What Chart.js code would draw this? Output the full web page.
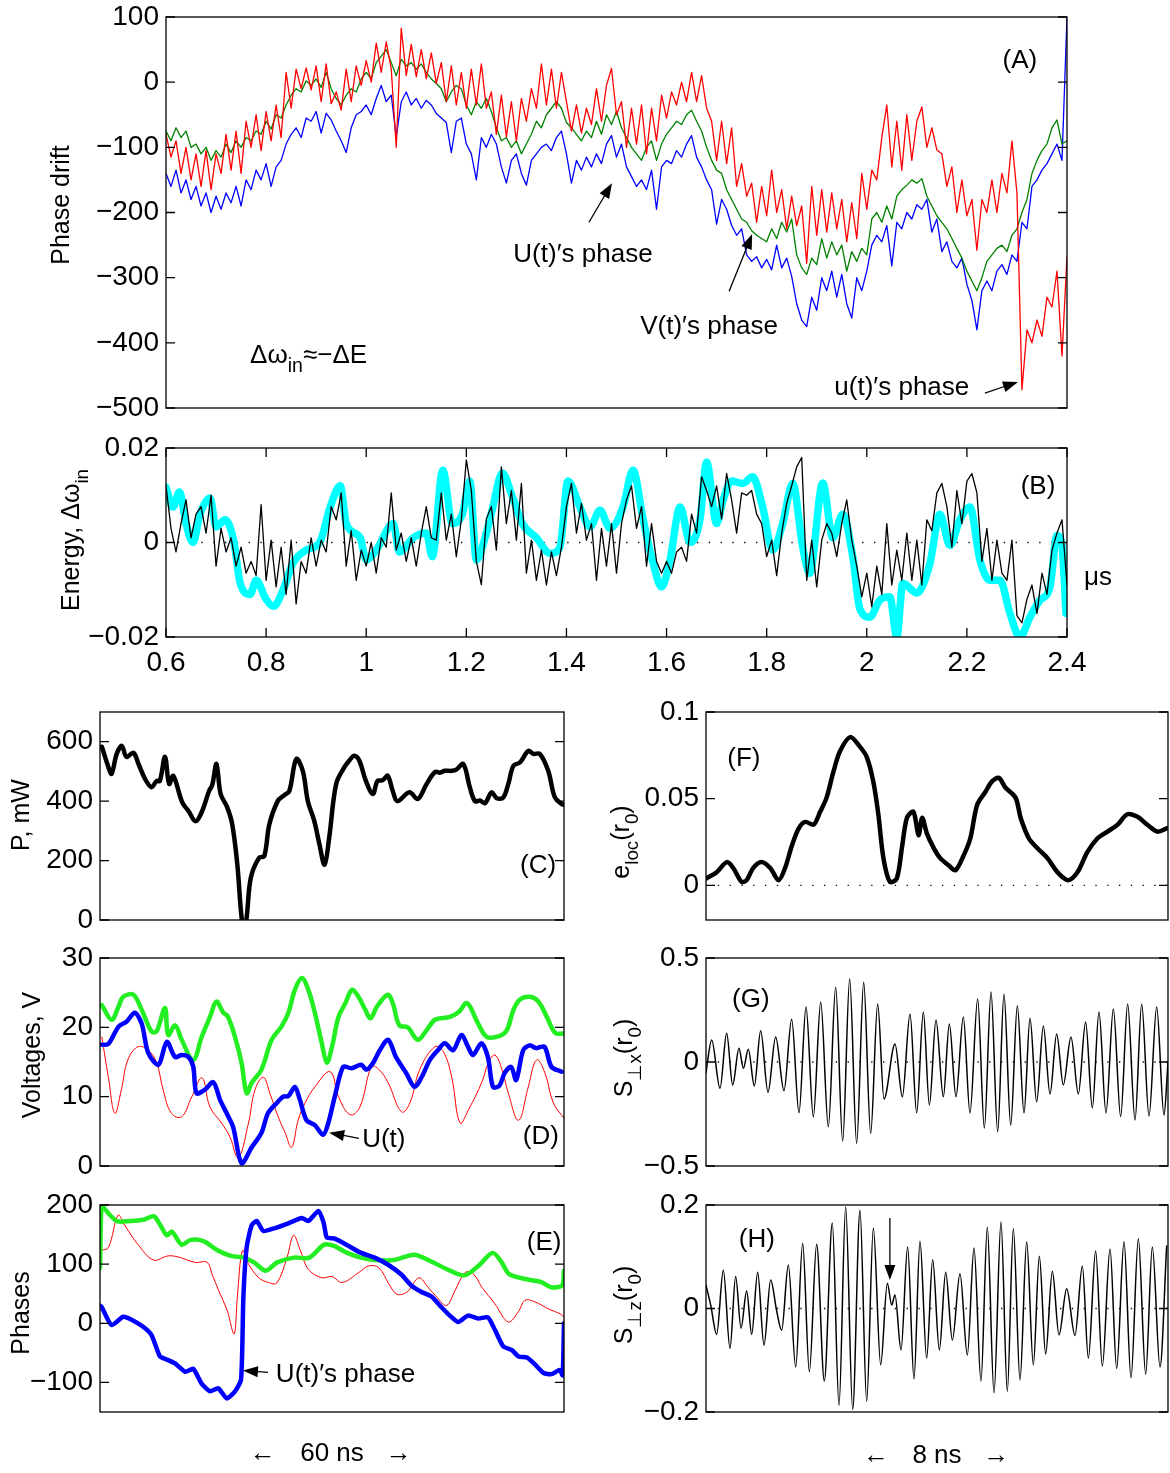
<!DOCTYPE html>
<html>
<head>
<meta charset="utf-8">
<script src="https://cdn.jsdelivr.net/npm/chart.js@4.4.1/dist/chart.umd.min.js"></script>
<style>
  html, body { margin: 0; padding: 0; background: #fff; }
  #page { position: relative; width: 1170px; height: 1473px; }
  #page canvas { position: absolute; left: 0; top: 0; }
</style>
</head>
<body>
<div id="page">
  <canvas id="cA" width="1170" height="1473"></canvas>
  <canvas id="cB" width="1170" height="1473"></canvas>
  <canvas id="cC" width="1170" height="1473"></canvas>
  <canvas id="cD" width="1170" height="1473"></canvas>
  <canvas id="cE" width="1170" height="1473"></canvas>
  <canvas id="cF" width="1170" height="1473"></canvas>
  <canvas id="cG" width="1170" height="1473"></canvas>
  <canvas id="cH" width="1170" height="1473"></canvas>
</div>
<script>
// ---------- data ----------
// panels A and B are sampled every 0.01 us from 0.6 us
var T_START = 0.6, T_STEP = 0.01;

var phaseRed = [
  -80, -115, -90, -140, -100, -150, -110, -160, -105, -165,
  -110, -140, -80, -135, -75, -140, -60, -100, -50, -105,
  -45, -90, -35, -85, 15, -40, 20, -10, 22, -12,
  25, -30, 28, -33, -15, -43, 20, -30, 25, -5,
  33, 0, 60, 15, 62, 20, -100, 83, 10, 58,
  8, 50, 5, 45, -2, 30, -30, 25, -35, 15,
  -40, 20, -35, 28, -40, -15, -80, -20, -84, -30,
  -90, -25, -60, -10, -40, 28, -35, 20, -40, 15,
  -30, -75, -35, -78, -40, -65, -10, -60, -5, 21,
  -50, -30, -100, -40, -95, -35, -110, -40, -90, -20,
  -55, -15, -35, 0, -30, 15, -30, 10, -40, -60,
  -120, -60, -125, -70, -160, -125, -175, -155, -215, -160,
  -205, -135, -200, -165, -225, -175, -220, -190, -278, -160,
  -235, -165, -230, -170, -225, -180, -245, -185, -240, -140,
  -195, -135, -150, -85, -35, -130, -60, -135, -50, -120,
  -60, -38, -100, -70, -104, -110, -160, -130, -200, -150,
  -205, -180, -258, -180, -200, -150, -200, -140, -170, -90,
  -170, -472, -380, -400, -365, -390, -330, -345, -290, -420,
  -268
];
var phaseGreen = [
  -75, -90, -70, -85, -75, -100, -95, -110, -100, -120,
  -105, -115, -95, -108, -90, -100, -85, -90, -75, -80,
  -60, -72, -50, -55, -35, -20, -10, -15, 2, -5,
  5, -8, 15, -10, -25, -35, -20, -10, -15, 5,
  15, 5, 30, 40, 50, 30, 10, 35, 25, 30,
  20, 28, 15, 5, -2, -10, -30, -15, -5, -10,
  -35, -50, -30, -40, -25, -45, -70, -90, -85, -100,
  -90, -110, -95, -80, -60, -70, -50, -40, -30, -40,
  -62, -70, -80, -90, -75, -85, -60, -80, -50, -65,
  -45, -70, -85, -100, -110, -120, -100, -90, -120, -95,
  -80, -70, -60, -65, -50, -43, -60, -75, -100, -120,
  -135, -140, -165, -180, -195, -210, -215, -228, -235, -240,
  -245, -225, -240, -215, -230, -210, -265, -285, -295, -270,
  -280, -240, -270, -245, -265, -250, -290, -260, -275, -255,
  -265, -210, -200, -215, -190, -210, -175, -165, -158, -150,
  -155, -148, -175, -190, -205, -215, -225, -240, -255, -270,
  -290, -305, -320, -300, -275, -265, -255, -250, -260, -235,
  -225, -200, -180, -140, -120, -105, -95, -70, -58, -95,
  -90
];
var phaseBlue = [
  -140, -160, -135, -170, -150, -180, -160, -190, -170, -200,
  -175, -195, -170, -185, -160, -190, -150, -165, -135, -150,
  -125, -160, -130, -120, -95, -80, -70, -85, -55, -60,
  -45, -78, -48, -58, -75, -90, -108, -70, -50, -45,
  -35, -50, -25, -5, -30, -20, -84, -30, -15, -35,
  -25, -40, -28, -35, -48, -55, -62, -108, -60, -55,
  -95, -110, -150, -85, -100, -80, -95, -130, -155, -120,
  -110, -140, -158, -120, -110, -100, -95, -105, -85, -75,
  -110, -155, -120, -135, -115, -130, -110, -125, -95, -82,
  -115, -95, -130, -145, -160, -150, -165, -135, -195, -130,
  -120, -125, -105, -115, -95, -82, -115, -130, -150, -165,
  -218, -180, -195, -220, -235, -225, -265, -275, -268, -285,
  -272, -288, -250, -285, -270, -298, -340, -365, -375, -330,
  -350, -300, -320, -290, -330, -295, -340, -362, -300, -320,
  -290, -250, -235, -245, -220, -282, -215, -225, -200, -210,
  -188, -195, -180, -230, -210, -260, -245, -275, -285, -270,
  -310, -335, -380, -320, -305, -320, -290, -280, -295, -265,
  -275, -215, -225, -160, -150, -135, -125, -110, -95, -120,
  100
];
var energyBlack = [
  0.012, 0.003, -0.002, 0.004, 0.009, 0.001, 0.006, 0.0076, 0.002, 0.010,
  -0.005, 0.003, -0.002, 0.001, -0.005, -0.001, -0.0065, -0.004, -0.007, 0.008,
  -0.008, 0.0005, -0.0094, -0.001, -0.011, 0.0005, -0.013, -0.004, -0.0065, 0.001,
  -0.005, 0.0005, -0.002, 0.0076, 0.0048, 0.0105, -0.005, 0.0025, -0.008, -0.0016,
  -0.005, 0, -0.0065, 0.001, -0.001, 0.0105, -0.0016, 0.002, -0.004, 0.001,
  -0.005, 0.002, 0.0076, 0.001, 0.0005, 0.0105, 0.0005, 0.006, -0.003, 0.0048,
  0.0175, 0.011, -0.004, -0.0089, 0.005, 0.0076, -0.0016, 0.016, 0.004, 0.011,
  0.0005, 0.0125, -0.0065, 0.0005, -0.008, -0.0016, -0.009, -0.002, -0.007, -0.001,
  0.0076, 0.0125, 0.002, 0.0083, 0.0005, 0.004, -0.008, 0.003, -0.005, 0.004,
  -0.0065, 0.004, 0.009, 0.012, 0.003, 0.0076, -0.005, 0.004, -0.004, -0.0065,
  -0.004, -0.0065, -0.002, -0.001, -0.004, 0.006, 0.002, 0.0139, 0.011, 0.0076,
  0.012, 0.005, 0.0146, 0.009, 0.002, 0.0105, 0.010, 0.011, 0.006, 0.004,
  -0.003, 0.0005, -0.007, 0.002, 0.0083, 0.012, 0.016, 0.018, -0.008, 0.0005,
  -0.0094, 0.0005, 0.004, 0.002, -0.003, 0.004, 0.009, 0.0005, -0.005, -0.0115,
  -0.0065, -0.0136, -0.005, -0.011, 0.004, -0.009, -0.0016, -0.008, 0.002, -0.008,
  0.0005, -0.009, 0.0048, 0.0025, 0.0105, 0.0125, 0.0076, -0.001, 0.011, 0.004,
  0.013, 0.0146, 0.0105, -0.004, 0.003, -0.008, 0.0005, -0.0065, -0.008, 0.0005,
  -0.0155, -0.017, -0.012, -0.009, -0.015, -0.0065, -0.011, -0.0016, 0.002, 0.0048,
  -0.009
];
var energyCyan = [
  [0.600, 0.0117], [0.614, 0.0075], [0.627, 0.0107], [0.640, 0.004], [0.654, 0.000],
  [0.668, 0.006], [0.688, 0.0094], [0.700, 0.0033], [0.718, 0.0048], [0.735, 0.0005],
  [0.748, -0.0085], [0.768, -0.0110], [0.780, -0.0080], [0.800, -0.0120], [0.815, -0.0135],
  [0.834, -0.0100], [0.854, -0.0043], [0.880, -0.0016], [0.907, 0.0000], [0.928, 0.0075],
  [0.948, 0.0120], [0.960, 0.0040], [0.988, 0.0010], [1.000, -0.0037], [1.020, -0.0016],
  [1.054, 0.0040], [1.066, -0.0020], [1.094, 0.0010], [1.120, 0.0020], [1.132, -0.0030],
  [1.153, 0.0153], [1.172, 0.0040], [1.192, 0.0060], [1.207, 0.0130], [1.220, -0.0037],
  [1.240, 0.0020], [1.253, 0.0075], [1.272, 0.0147], [1.292, 0.0097], [1.312, 0.0040],
  [1.340, 0.0010], [1.367, -0.0023], [1.387, -0.0010], [1.403, 0.0130], [1.427, 0.0075],
  [1.447, 0.0033], [1.467, 0.0068], [1.487, 0.0030], [1.513, 0.0075], [1.533, 0.0153],
  [1.553, 0.0050], [1.573, -0.0043], [1.590, -0.0094], [1.607, -0.0037], [1.627, 0.0075],
  [1.647, 0.0000], [1.667, 0.0050], [1.680, 0.0170], [1.700, 0.0040], [1.713, 0.0090],
  [1.730, 0.0130], [1.752, 0.0125], [1.772, 0.0139], [1.792, 0.0075], [1.812, -0.0016],
  [1.832, 0.0040], [1.852, 0.0125], [1.872, -0.0010], [1.886, -0.0065], [1.912, 0.0126],
  [1.932, 0.0010], [1.952, 0.0060], [1.972, -0.0030], [1.986, -0.0140], [2.006, -0.0158],
  [2.026, -0.0122], [2.046, -0.0115], [2.060, -0.0200], [2.072, -0.0086], [2.100, -0.0107],
  [2.126, -0.0045], [2.146, 0.0060], [2.166, -0.0006], [2.186, 0.0048], [2.206, 0.0075],
  [2.226, -0.0037], [2.246, -0.0080], [2.266, -0.0080], [2.286, -0.0150], [2.306, -0.0200],
  [2.326, -0.0158], [2.346, -0.0122], [2.366, -0.0094], [2.380, 0.0015], [2.390, -0.0006],
  [2.398, -0.0150]
];

// panels C-E: time across the 60 ns window, in % of the window
var powerMW = [
  [0.4, 583], [1.8, 515], [2.5, 492], [3.6, 559], [4.7, 586], [5.7, 549], [7.2, 563], [8.3, 525],
  [9.7, 475], [11.1, 447], [12.2, 468], [12.9, 468], [14.0, 549], [14.9, 458], [15.8, 485],
  [17.7, 397], [19.1, 366], [20.6, 332], [22.0, 366], [23.5, 434], [24.2, 455], [25.1, 525],
  [26.0, 424], [27.4, 380], [28.5, 322], [29.6, 186], [30.7, -15], [31.4, -15], [32.5, 142],
  [34.3, 210], [35.4, 215], [36.5, 322], [38.3, 400], [39.7, 420], [40.8, 434], [42.3, 542],
  [43.7, 502], [44.8, 400], [46.2, 332], [47.3, 254], [48.4, 186], [49.4, 278], [50.9, 458],
  [52.7, 515], [53.7, 536], [54.8, 553], [55.9, 536], [57.3, 468], [58.8, 424], [59.8, 468],
  [60.9, 470], [62.0, 485], [63.1, 434], [64.1, 400], [66.7, 430], [68.5, 407], [70.4, 458],
  [72.2, 498], [73.3, 496], [74.3, 502], [75.8, 502], [76.8, 506], [78.3, 525], [79.7, 447],
  [80.8, 400], [81.9, 402], [83.0, 393], [84.4, 430], [85.5, 410], [86.9, 412], [88.0, 458],
  [89.1, 519], [90.5, 530], [92.3, 569], [93.4, 559], [94.8, 559], [96.6, 502], [98.0, 414],
  [99.5, 390], [100, 388]
];
var voltGreen = [
  [0.4, 23.2], [2.5, 21.1], [4.0, 23.0], [5.0, 24.4], [7.2, 24.7], [9.0, 22.5], [11.1, 19.4],
  [12.2, 19.4], [14.0, 22.8], [14.7, 18.9], [16.2, 20.3], [17.6, 18.2], [20.1, 15.3], [21.9, 18.6],
  [23.7, 21.5], [25.1, 23.7], [26.5, 22.2], [27.6, 21.5], [29.1, 18.6], [30.5, 14.9], [31.6, 10.5],
  [32.7, 12.0], [34.8, 13.9], [37.0, 18.2], [39.1, 20.1], [40.6, 22.1], [42.0, 25.4], [43.5, 27.1],
  [44.9, 25.4], [46.3, 22.1], [47.8, 17.7], [48.9, 14.9], [50.0, 17.2], [51.4, 21.5], [52.9, 23.5],
  [54.3, 25.4], [55.7, 24.4], [57.2, 22.5], [58.3, 21.3], [59.7, 23.0], [62.0, 24.7], [63.1, 23.5],
  [64.5, 20.3], [66.3, 20.0], [68.5, 18.2], [70.4, 19.6], [72.2, 21.1], [75.4, 21.5], [77.3, 22.2],
  [79.1, 23.5], [81.3, 20.8], [83.4, 18.6], [86.3, 18.8], [87.7, 19.6], [89.1, 22.5], [90.5, 24.0],
  [92.7, 24.4], [94.5, 23.7], [96.3, 21.5], [98.1, 19.2], [99.9, 19.1]
];
var voltBlue = [
  [0.4, 17.5], [1.8, 17.6], [4.0, 20.1], [5.7, 20.8], [7.5, 22.1], [9.0, 20.5], [10.4, 16.3],
  [12.6, 14.6], [14.4, 17.9], [16.2, 15.7], [17.6, 16.0], [19.1, 15.7], [20.1, 14.3], [20.8, 10.5],
  [22.6, 11.0], [24.4, 12.1], [25.9, 9.5], [27.3, 7.6], [28.7, 5.6], [30.5, 0.4], [32.7, 2.7],
  [34.8, 4.8], [36.2, 7.6], [38.1, 9.1], [39.5, 10.0], [40.6, 10.1], [42.0, 11.4], [43.1, 9.5],
  [44.5, 6.6], [46.3, 5.9], [48.1, 4.5], [49.2, 6.2], [50.6, 10.0], [52.4, 14.3], [54.2, 14.1],
  [56.3, 14.6], [57.4, 13.9], [58.8, 14.8], [60.3, 16.7], [62.1, 18.2], [63.8, 15.7], [66.0, 13.4],
  [67.8, 11.4], [69.3, 12.8], [71.1, 15.3], [72.8, 16.7], [74.3, 17.7], [76.1, 16.7], [77.9, 18.9],
  [79.3, 17.2], [80.4, 16.0], [82.2, 17.7], [83.6, 15.7], [84.7, 11.4], [86.1, 11.6], [87.2, 13.4],
  [88.6, 14.3], [89.7, 12.4], [91.2, 16.7], [92.6, 17.4], [94.0, 17.0], [95.8, 17.2], [97.3, 14.3],
  [99.5, 13.6]
];
var voltRed = [
  [0.4, 18.6], [1.8, 12.8], [3.2, 7.6], [4.6, 11.0], [6.0, 15.3], [8.2, 17.2], [10.4, 16.7],
  [12.2, 14.9], [13.6, 11.0], [15.4, 7.6], [17.6, 7.1], [19.8, 10.0], [22.0, 12.7], [23.7, 8.5],
  [26.2, 6.2], [28.0, 4.2], [29.8, 1.2], [32.0, 6.2], [33.4, 11.0], [35.2, 12.8], [36.6, 10.5],
  [38.4, 7.1], [39.9, 4.8], [41.3, 2.7], [42.7, 6.6], [44.2, 9.1], [46.3, 11.4], [49.6, 13.6],
  [51.4, 10.0], [53.9, 7.4], [56.0, 8.5], [58.5, 14.3], [60.0, 14.0], [62.1, 12.0], [65.0, 7.8],
  [66.8, 9.1], [68.9, 13.9], [72.2, 17.2], [74.0, 16.5], [75.8, 12.8], [77.6, 6.2], [79.4, 8.1],
  [82.3, 12.1], [83.7, 14.9], [85.1, 16.0], [86.6, 14.0], [88.0, 10.5], [90.2, 6.6], [92.3, 11.4],
  [94.1, 15.3], [95.9, 13.4], [97.7, 9.1], [100, 6.9]
];
var phaseGreenE = [
  [0, 94], [0.3, 200], [0.6, 197], [3.6, 173], [6.5, 173], [9.4, 175], [11.6, 181], [13.0, 166],
  [14.4, 149], [15.5, 155], [17.6, 133], [19.5, 141], [22.3, 139], [25.2, 124], [28.2, 114],
  [31.0, 111], [33.2, 103], [35.7, 89], [38.2, 103], [41.8, 111], [45.1, 111], [48.3, 133],
  [50.4, 131], [53.3, 119], [56.2, 111], [59.1, 107], [63.4, 107], [67.7, 116], [71.3, 105],
  [74.9, 91], [78.5, 81], [81.4, 96], [84.6, 119], [86.4, 105], [88.2, 83], [92.2, 74],
  [95.0, 70], [97.2, 61], [99.6, 64], [100, 89]
];
var phaseBlueE = [
  [0, 30], [0.4, 27], [2.5, -3], [5.0, 11], [6.8, 6], [9.3, -6], [11.1, -20], [12.9, -56],
  [14.0, -60], [16.2, -68], [18.4, -82], [20.1, -77], [21.9, -102], [23.7, -115], [25.5, -110],
  [27.3, -127], [29.1, -115], [30.4, -95], [30.9, 44], [31.6, 128], [32.7, 166], [33.8, 173],
  [35.2, 156], [37.7, 161], [40.6, 169], [43.5, 178], [44.9, 173], [47.1, 190], [48.2, 170],
  [48.9, 145], [50.6, 143], [53.5, 131], [56.3, 119], [59.2, 111], [62.1, 99], [65.0, 82],
  [67.1, 64], [69.3, 53], [71.5, 45], [73.6, 27], [75.4, 13], [77.2, 2], [79.3, 13], [81.5, 8],
  [83.6, 10], [85.1, -11], [86.9, -39], [88.7, -45], [90.2, -56], [92.0, -58], [93.8, -70],
  [95.6, -84], [97.3, -86], [99.1, -79], [99.7, -88], [100, 0]
];
var phaseRedE = [
  [0, 123], [1.8, 128], [3.9, 183], [5.3, 166], [8.2, 133], [11.5, 107], [14.7, 114], [16.9, 112],
  [20.5, 103], [23.1, 103], [24.2, 82], [25.6, 55], [27.4, 22], [28.9, -18], [29.6, 44],
  [30.7, 123], [32.1, 99], [34.2, 77], [36.3, 69], [38.1, 68], [40.3, 111], [41.7, 149],
  [43.1, 125], [44.9, 91], [47.8, 77], [50.0, 79], [52.2, 69], [55.8, 86], [57.9, 97], [60.1, 94],
  [62.3, 66], [64.0, 49], [66.2, 53], [68.7, 77], [70.8, 60], [72.6, 44], [74.7, 30], [76.5, 55],
  [78.7, 86], [80.5, 83], [82.3, 61], [85.1, 33], [88.0, 2], [90.2, 20], [91.6, 39], [93.8, 36],
  [96.7, 24], [99.2, 16], [100, 10]
];

// panels F-H: time across the 8 ns window, in % of the window
var eLoc = [
  [0.1, 0.004], [2.3, 0.0075], [4.5, 0.0134], [5.9, 0.010], [7.7, 0.002], [8.8, 0.003],
  [10.2, 0.0099], [12.0, 0.0134], [13.9, 0.010], [15.7, 0.003], [17.1, 0.0099], [18.6, 0.023],
  [20.1, 0.033], [21.5, 0.0366], [23.3, 0.035], [24.7, 0.0424], [26.1, 0.0506], [27.6, 0.0657],
  [29.0, 0.0773], [31.2, 0.0855], [33.3, 0.080], [34.8, 0.074], [36.2, 0.060], [37.3, 0.041],
  [38.4, 0.0157], [39.8, 0.002], [41.3, 0.004], [42.4, 0.0215], [43.5, 0.039], [44.9, 0.0424],
  [46.0, 0.029], [46.8, 0.039], [47.8, 0.030], [49.3, 0.0215], [50.7, 0.0157], [52.5, 0.0116],
  [54.0, 0.0087], [55.8, 0.0174], [57.2, 0.027], [58.7, 0.0465], [60.5, 0.054], [61.9, 0.060],
  [63.4, 0.062], [64.8, 0.0564], [67.0, 0.0506], [68.1, 0.039], [69.9, 0.027], [71.7, 0.0215],
  [73.9, 0.0157], [76.1, 0.0075], [78.4, 0.003], [80.4, 0.0075], [82.5, 0.019], [84.7, 0.027],
  [86.9, 0.031], [89.1, 0.035], [91.2, 0.041], [93.4, 0.0395], [95.5, 0.035], [97.7, 0.031],
  [99.9, 0.033]
];
var spinX = [
  [0, -0.05], [1.23, 0.106], [3.03, -0.126], [4.47, 0.138], [5.77, -0.11], [7.14, 0.066],
  [8.08, -0.03], [9.16, 0.061], [10.46, -0.115], [11.83, 0.15], [13.42, -0.145], [15.08, 0.12],
  [16.88, -0.138], [18.54, 0.206], [20.13, -0.244], [21.65, 0.265], [23.23, -0.263], [24.83, 0.288],
  [26.48, -0.311], [28.07, 0.359], [29.58, -0.38], [31.10, 0.399], [32.61, -0.391], [34.13, 0.383],
  [35.64, -0.343], [37.16, 0.279], [38.53, -0.178], [40.91, 0.087], [42.50, -0.167], [44.16, 0.231],
  [45.60, -0.244], [47.04, 0.24], [48.35, -0.207], [49.78, 0.202], [51.37, -0.167], [52.67, 0.183],
  [54.11, -0.167], [55.70, 0.216], [57.14, -0.245], [58.80, 0.303], [60.25, -0.317], [61.69, 0.337],
  [63.13, -0.335], [64.50, 0.326], [65.95, -0.303], [67.39, 0.27], [68.83, -0.245], [70.13, 0.21],
  [71.57, -0.192], [73.02, 0.173], [74.46, -0.154], [75.90, 0.135], [77.34, -0.11], [79.00, 0.12],
  [80.59, -0.154], [82.17, 0.192], [83.62, -0.221], [85.06, 0.24], [86.58, -0.245], [88.17, 0.255],
  [89.75, -0.263], [91.27, 0.279], [92.86, -0.279], [94.30, 0.279], [95.89, -0.26], [97.55, 0.265],
  [99.13, -0.255], [100, 0.0]
];
var spinZ = [
  [0, 0.045], [1.01, 0.007], [2.31, -0.05], [3.75, 0.074], [5.19, -0.077], [6.42, 0.062],
  [7.58, -0.038], [8.80, 0.034], [9.89, -0.05], [11.18, 0.07], [12.55, -0.071], [14.00, 0.055],
  [15.30, -0.005], [16.38, -0.042], [17.82, 0.084], [19.41, -0.113], [20.92, 0.126], [22.37, -0.122],
  [23.95, 0.124], [25.61, -0.14], [27.34, 0.165], [28.79, -0.187], [30.23, 0.196], [31.75, -0.195],
  [33.33, 0.19], [34.78, -0.179], [36.22, 0.155], [37.81, -0.109], [39.25, 0.049], [40.19, 0.007],
  [40.91, 0.026], [42.21, -0.08], [43.65, 0.119], [45.02, -0.136], [46.32, 0.13], [47.76, -0.096],
  [49.06, 0.094], [50.51, -0.08], [51.88, 0.07], [53.32, -0.061], [54.98, 0.067], [56.57, -0.09],
  [58.01, 0.117], [59.52, -0.14], [60.89, 0.157], [62.34, -0.163], [63.85, 0.167], [65.22, -0.16],
  [66.52, 0.154], [67.97, -0.138], [69.41, 0.129], [70.85, -0.109], [72.15, 0.101], [73.52, -0.088],
  [74.96, 0.072], [76.41, -0.051], [78.07, 0.038], [79.87, -0.052], [81.46, 0.082], [82.76, -0.096],
  [84.34, 0.111], [85.79, -0.111], [87.45, 0.115], [88.89, -0.116], [90.48, 0.129], [91.99, -0.134],
  [93.58, 0.135], [95.17, -0.127], [96.61, 0.119], [98.27, -0.113], [99.71, 0.121]
];

// tick values
var ticksA = [-500, -400, -300, -200, -100, 0, 100];
var ticksBy = [-0.02, 0, 0.02];
var ticksBx = [0.6, 0.8, 1, 1.2, 1.4, 1.6, 1.8, 2, 2.2, 2.4];
var ticksC = [0, 200, 400, 600];
var ticksD = [0, 10, 20, 30];
var ticksE = [-100, 0, 100, 200];
var ticksF = [0, 0.05, 0.1];
var ticksG = [-0.5, 0, 0.5];
var ticksH = [-0.2, 0, 0.2];

// ---------- drawing ----------
var FONT = '"Liberation Sans", Arial, Helvetica, sans-serif';
var TICK_SIZE = 28, NOTE_SIZE = 26, TITLE_SIZE = 25, TICK_LEN = 9;
var PAGE_W = 1170, PAGE_H = 1473;

function evenly(t0, dt, vals) {
  return vals.map(function (v, i) { return { x: +(t0 + i * dt).toFixed(4), y: v }; });
}
function fromPairs(p) {
  return p.map(function (d) { return { x: d[0], y: d[1] }; });
}
function fmt(v) { return String(v).replace('-', '\u2212'); }

function drawRich(ctx, parts, x, y, size, align) {
  var w = 0;
  parts.forEach(function (p) {
    ctx.font = (p[1] ? size * 0.75 : size) + 'px ' + FONT;
    w += ctx.measureText(p[0]).width;
  });
  var cx = align === 'left' ? x : align === 'right' ? x - w : x - w / 2;
  ctx.textAlign = 'left';
  ctx.textBaseline = 'middle';
  parts.forEach(function (p) {
    ctx.font = (p[1] ? size * 0.75 : size) + 'px ' + FONT;
    ctx.fillText(p[0], cx, y + (p[1] ? size * 0.42 : 0));
    cx += ctx.measureText(p[0]).width;
  });
}

function drawArrow(ctx, x1, y1, x2, y2) {
  var ang = Math.atan2(y2 - y1, x2 - x1), L = 15, W = 5.5;
  ctx.beginPath();
  ctx.moveTo(x1, y1);
  ctx.lineTo(x2 - Math.cos(ang) * L * 0.8, y2 - Math.sin(ang) * L * 0.8);
  ctx.lineWidth = 1.3;
  ctx.stroke();
  ctx.beginPath();
  ctx.moveTo(x2, y2);
  ctx.lineTo(x2 - Math.cos(ang) * L - Math.sin(ang) * W, y2 - Math.sin(ang) * L + Math.cos(ang) * W);
  ctx.lineTo(x2 - Math.cos(ang) * L + Math.sin(ang) * W, y2 - Math.sin(ang) * L - Math.cos(ang) * W);
  ctx.closePath();
  ctx.fill();
}

var DECOR = {
  cA: {
    yTicks: ticksA,
    texts: [
      { x: 2.306, y: 32, parts: [['(A)']] },
      { x: 1.433, y: -265, parts: [['U(t)\u2032s phase']] },
      { x: 1.685, y: -376, parts: [['V(t)\u2032s phase']] },
      { x: 2.070, y: -469, parts: [['u(t)\u2032s phase']] },
      { x: 0.768, y: -420, parts: [['\u0394\u03c9'], ['in', 1], ['\u2248\u2212\u0394E']], align: 'left' }
    ],
    arrows: [[1.445, -215, 1.491, -155], [1.725, -321, 1.771, -233], [2.236, -477, 2.302, -460]],
    title: { at: [62, 205], parts: [['Phase drift']] }
  },
  cB: {
    yTicks: ticksBy, xTicks: ticksBx,
    texts: [
      { x: 2.342, y: 0.0117, parts: [['(B)']] },
      { x: 2.462, y: -0.0075, parts: [['\u03bcs']] }
    ],
    title: { at: [72, 540], parts: [['Energy, \u0394\u03c9'], ['in', 1]] }
  },
  cC: {
    yTicks: ticksC,
    texts: [{ x: 94.4, y: 183, parts: [['(C)']] }],
    title: { at: [22, 815], parts: [['P, mW']] }
  },
  cD: {
    yTicks: ticksD,
    texts: [
      { x: 56.5, y: 3.75, parts: [['U(t)']], align: 'left' },
      { x: 95.0, y: 4.2, parts: [['(D)']] }
    ],
    arrows: [[55.8, 4.0, 49.4, 4.8]],
    title: { at: [33, 1055], parts: [['Voltages, V']] }
  },
  cE: {
    yTicks: ticksE,
    texts: [
      { x: 95.7, y: 136, parts: [['(E)']] },
      { x: 37.9, y: -87, parts: [['U(t)\u2032s phase']], align: 'left' },
      { x: 35.1, y: -221, parts: [['\u2190']] },
      { x: 50, y: -221, parts: [['60 ns']] },
      { x: 64.4, y: -221, parts: [['\u2192']] }
    ],
    arrows: [[36.2, -83, 30.8, -80]],
    title: { at: [22, 1313], parts: [['Phases']] }
  },
  cF: {
    yTicks: ticksF,
    texts: [{ x: 8.2, y: 0.0727, parts: [['(F)']] }],
    title: { at: [622, 842], parts: [['e'], ['loc', 1], ['(r'], ['0', 1], [')']] }
  },
  cG: {
    yTicks: ticksG,
    texts: [{ x: 9.7, y: 0.298, parts: [['(G)']] }],
    title: { at: [625, 1058], parts: [['S'], ['\u22a5x', 1], ['(r'], ['0', 1], [')']] }
  },
  cH: {
    yTicks: ticksH,
    texts: [
      { x: 11.0, y: 0.132, parts: [['(H)']] },
      { x: 36.8, y: -0.285, parts: [['\u2190']] },
      { x: 50, y: -0.285, parts: [['8 ns']] },
      { x: 62.8, y: -0.285, parts: [['\u2192']] }
    ],
    arrows: [[39.8, 0.175, 39.8, 0.055]],
    title: { at: [625, 1305], parts: [['S'], ['\u22a5z', 1], ['(r'], ['0', 1], [')']] }
  }
};

var decorPlugin = {
  id: 'decor',
  afterDraw: function (chart) {
    var o = DECOR[chart.canvas.id];
    var ctx = chart.ctx, a = chart.chartArea, xs = chart.scales.x, ys = chart.scales.y;
    ctx.save();
    ctx.strokeStyle = '#000';
    ctx.fillStyle = '#000';
    ctx.lineWidth = 1.3;
    ctx.strokeRect(a.left, a.top, a.right - a.left, a.bottom - a.top);
    ctx.beginPath();
    (o.yTicks || []).forEach(function (v) {
      var p = ys.getPixelForValue(v);
      ctx.moveTo(a.left, p); ctx.lineTo(a.left + TICK_LEN, p);
      ctx.moveTo(a.right, p); ctx.lineTo(a.right - TICK_LEN, p);
    });
    (o.xTicks || []).forEach(function (v) {
      var p = xs.getPixelForValue(v);
      ctx.moveTo(p, a.top); ctx.lineTo(p, a.top + TICK_LEN);
      ctx.moveTo(p, a.bottom); ctx.lineTo(p, a.bottom - TICK_LEN);
    });
    ctx.stroke();
    (o.texts || []).forEach(function (t) {
      drawRich(ctx, t.parts, xs.getPixelForValue(t.x), ys.getPixelForValue(t.y), NOTE_SIZE, t.align || 'center');
    });
    (o.arrows || []).forEach(function (r) {
      drawArrow(ctx, xs.getPixelForValue(r[0]), ys.getPixelForValue(r[1]),
                xs.getPixelForValue(r[2]), ys.getPixelForValue(r[3]));
    });
    if (o.title) {
      ctx.save();
      ctx.translate(o.title.at[0], o.title.at[1]);
      ctx.rotate(-Math.PI / 2);
      drawRich(ctx, o.title.parts, 0, 0, TITLE_SIZE, 'center');
      ctx.restore();
    }
    ctx.restore();
  }
};

// the axis box gets the full margin so that its labels are not clipped
function fitTo(size) {
  return function (s) {
    if (!s.options.display) return;
    if (s.isHorizontal()) s.height = size; else s.width = size;
    s.paddingLeft = s.paddingRight = s.paddingTop = s.paddingBottom = 0;
  };
}

function line(data, color, width, extra) {
  var d = { data: data, borderColor: color, borderWidth: width, pointRadius: 0, fill: false,
            tension: 0, borderJoinStyle: 'round', borderCapStyle: 'round' };
  for (var k in (extra || {})) d[k] = extra[k];
  return d;
}
function zeroLine(x0, x1) {
  return line([{ x: x0, y: 0 }, { x: x1, y: 0 }], '#000', 1.3, { borderDash: [1.3, 10.5], borderCapStyle: 'butt' });
}

function makeChart(id, box, xr, yr, xTicks, yTicks, datasets) {
  var bottomGap = PAGE_H - box[3];
  return new Chart(document.getElementById(id), {
    type: 'line',
    data: { datasets: datasets },
    options: {
      responsive: false, animation: false, devicePixelRatio: 1, events: [],
      layout: { padding: { left: 0, top: box[1], right: PAGE_W - box[2], bottom: xTicks ? 0 : bottomGap } },
      plugins: { legend: { display: false }, tooltip: { enabled: false } },
      scales: {
        x: {
          type: 'linear', min: xr[0], max: xr[1], display: !!xTicks,
          grid: { display: false, drawTicks: false }, border: { display: false },
          afterBuildTicks: function (s) { if (xTicks) s.ticks = xTicks.map(function (v) { return { value: v }; }); },
          afterFit: fitTo(bottomGap),
          ticks: { font: { family: FONT, size: TICK_SIZE }, color: '#000', padding: 9,
                   maxRotation: 0, autoSkip: false, callback: fmt }
        },
        y: {
          type: 'linear', min: yr[0], max: yr[1],
          grid: { display: false, drawTicks: false }, border: { display: false },
          afterBuildTicks: function (s) { s.ticks = yTicks.map(function (v) { return { value: v }; }); },
          afterFit: fitTo(box[0]),
          ticks: { font: { family: FONT, size: TICK_SIZE }, color: '#000', padding: 7,
                   autoSkip: false, callback: fmt }
        }
      }
    },
    plugins: [decorPlugin]
  });
}

makeChart('cA', [166, 17, 1067, 408], [0.6, 2.4], [-500, 100], null, ticksA, [
  line(evenly(T_START, T_STEP, phaseRed), '#ff0000', 1.3),
  line(evenly(T_START, T_STEP, phaseGreen), '#008000', 1.3),
  line(evenly(T_START, T_STEP, phaseBlue), '#0000ff', 1.3)
]);
makeChart('cB', [166, 448, 1067, 637], [0.6, 2.4], [-0.02, 0.02], ticksBx, ticksBy, [
  line(evenly(T_START, T_STEP, energyBlack), '#000000', 1.3),
  line(fromPairs(energyCyan), '#00ffff', 7.5, { cubicInterpolationMode: 'monotone' }),
  zeroLine(0.6, 2.4)
]);
makeChart('cC', [100, 712, 564, 920], [0, 100], [0, 700], null, ticksC, [
  line(fromPairs(powerMW), '#000000', 4.5, { tension: 0.35 })
]);
makeChart('cD', [100, 958, 564, 1166], [0, 100], [0, 30], null, ticksD, [
  line(fromPairs(voltBlue), '#0000ff', 4.5, { tension: 0.3 }),
  line(fromPairs(voltGreen), '#22ee22', 4.5, { tension: 0.35 }),
  line(fromPairs(voltRed), '#ff0000', 1, { tension: 0.4 })
]);
makeChart('cE', [100, 1205, 564, 1412], [0, 100], [-150, 200], null, ticksE, [
  line(fromPairs(phaseBlueE), '#0000ff', 4.5, { tension: 0.2 }),
  line(fromPairs(phaseGreenE), '#22ee22', 4.5, { tension: 0.3 }),
  line(fromPairs(phaseRedE), '#ff0000', 1, { tension: 0.35 })
]);
makeChart('cF', [706, 712, 1168, 920], [0, 100], [-0.02, 0.1], null, ticksF, [
  line(fromPairs(eLoc), '#000000', 4.5, { tension: 0.3 }),
  zeroLine(0, 100)
]);
makeChart('cG', [706, 958, 1168, 1166], [0, 100], [-0.5, 0.5], null, ticksG, [
  line(fromPairs(spinX), '#000000', 1.5, { cubicInterpolationMode: 'monotone' }),
  zeroLine(0, 100)
]);
makeChart('cH', [706, 1205, 1168, 1412], [0, 100], [-0.2, 0.2], null, ticksH, [
  line(fromPairs(spinZ), '#000000', 1.5, { cubicInterpolationMode: 'monotone' }),
  zeroLine(0, 100)
]);
</script>
</body>
</html>
